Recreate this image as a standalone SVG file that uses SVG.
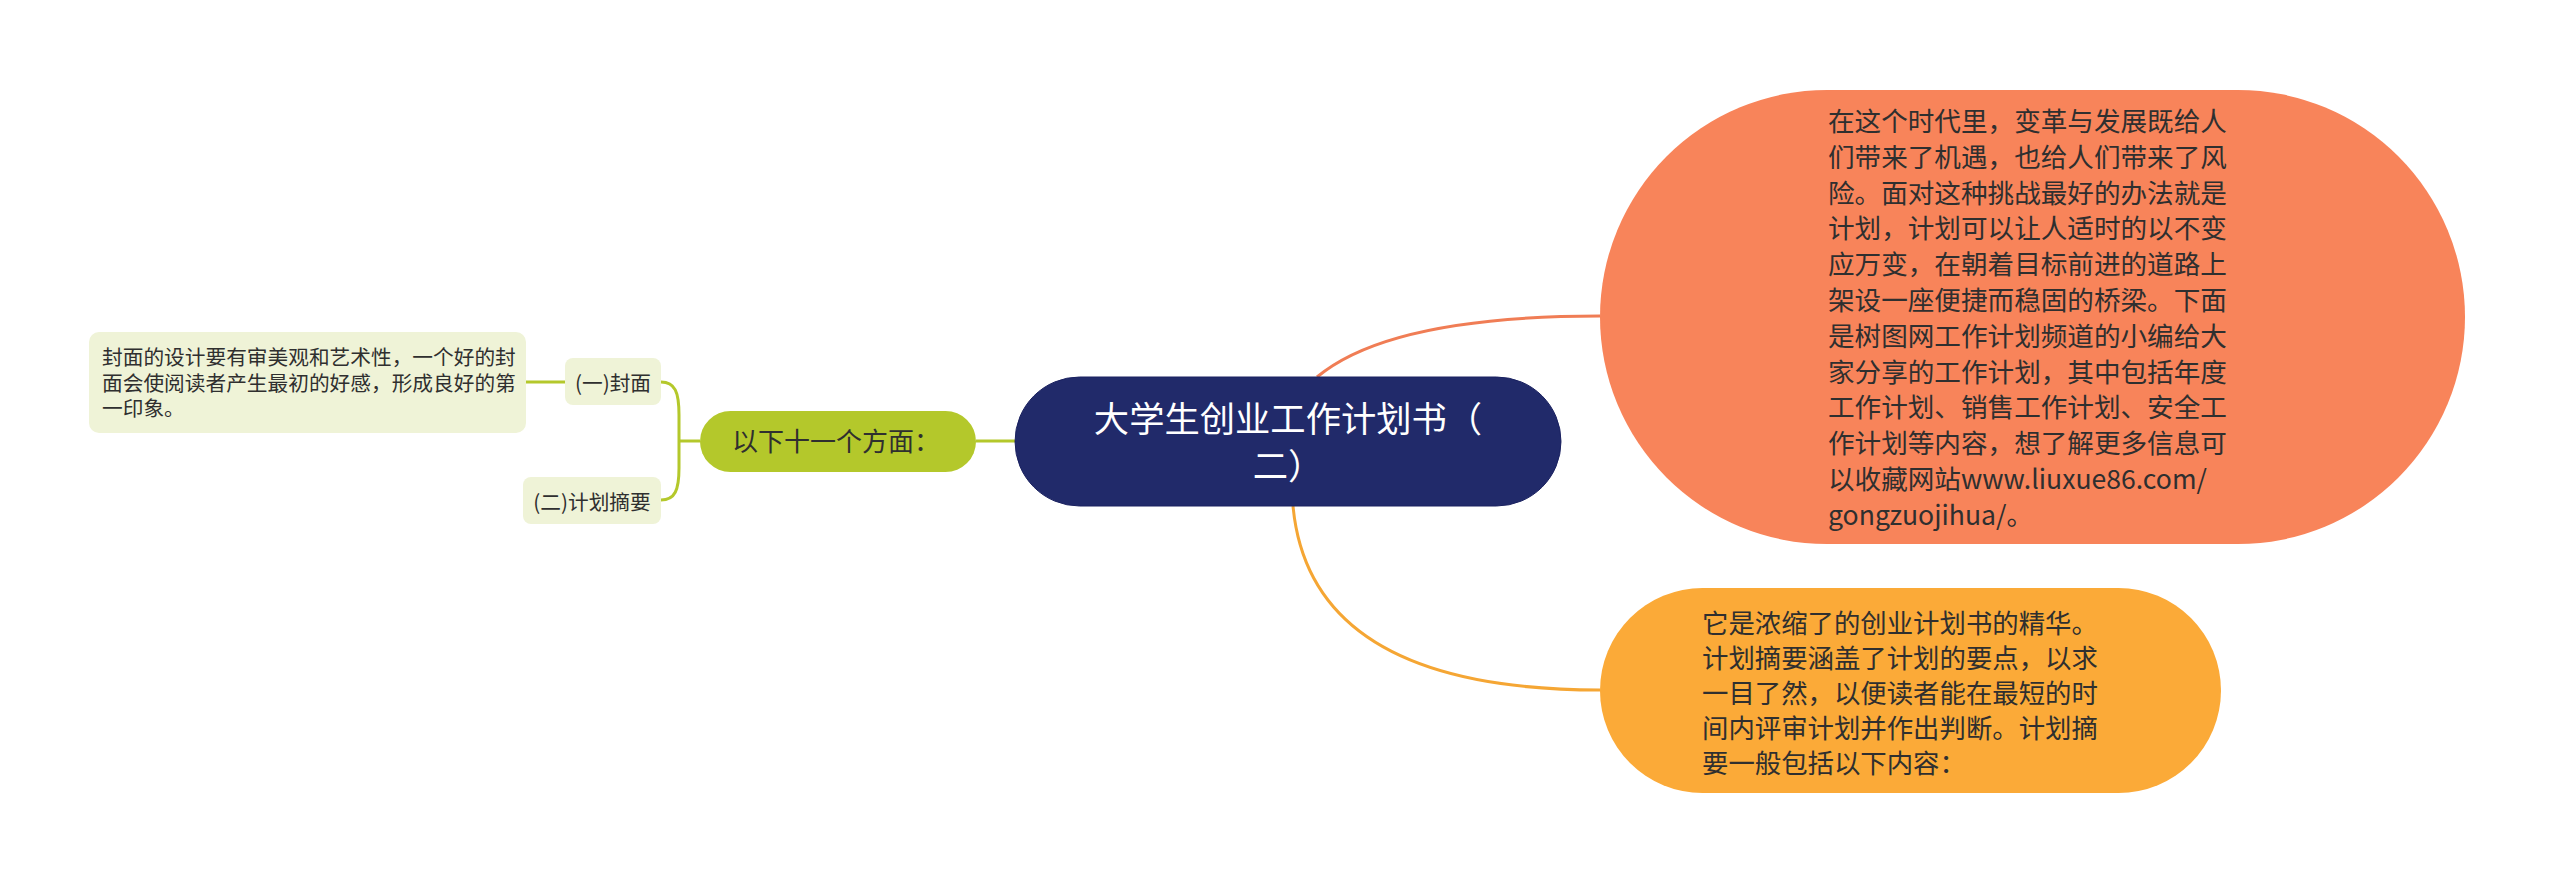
<svg xmlns="http://www.w3.org/2000/svg" width="2560" height="883" viewBox="0 0 2560 883">
<style>
text{font-family:"Noto Sans CJK SC","Noto Sans",sans-serif;}
.dark{fill:#2f2f2f;}
.c-green{fill:none;stroke:#b4c82b;stroke-width:3;}
.c-orange{fill:none;stroke:#f07d55;stroke-width:3;}
.c-yellow{fill:none;stroke:#f5a634;stroke-width:3;}
.leaf{fill:#eff3d7;}
</style>
<rect width="2560" height="883" fill="#ffffff"/>
<g id="connectors">
<path class="c-orange" d="M1317,377 Q1390,316 1600,316"/>
<path class="c-yellow" d="M1293,506 Q1310,690 1600,690"/>
<path class="c-green" d="M976,441 L1015,441"/>
<path class="c-green" d="M679,441 L700,441"/>
<path class="c-green" d="M661,382 C675,382 679,392 679,415 L679,468 C679,490 675,500 661,500"/>
<path class="c-green" d="M526,382 L565,382"/>
</g>
<g id="root">
<rect x="1015" y="377" width="546" height="129" rx="64.5" fill="#212a6a" stroke="#1a2160" stroke-width="1"/>
<text x="1288" y="432" font-size="35.3" fill="#ffffff" text-anchor="middle">大学生创业工作计划书（</text>
<text x="1288" y="479" font-size="35.3" fill="#ffffff" text-anchor="middle">二）</text>
</g>
<g id="orange-node">
<rect x="1600" y="90" width="865" height="454" rx="227" fill="#f8845a"/>
<g class="dark" font-size="26.6">
<text x="1828" y="131">在这个时代里，变革与发展既给人</text>
<text x="1828" y="166.8">们带来了机遇，也给人们带来了风</text>
<text x="1828" y="202.6">险。面对这种挑战最好的办法就是</text>
<text x="1828" y="238.4">计划，计划可以让人适时的以不变</text>
<text x="1828" y="274.2">应万变，在朝着目标前进的道路上</text>
<text x="1828" y="310">架设一座便捷而稳固的桥梁。下面</text>
<text x="1828" y="345.8">是树图网工作计划频道的小编给大</text>
<text x="1828" y="381.6">家分享的工作计划，其中包括年度</text>
<text x="1828" y="417.4">工作计划、销售工作计划、安全工</text>
<text x="1828" y="453.2">作计划等内容，想了解更多信息可</text>
<text x="1828" y="489">以收藏网站www.liuxue86.com/</text>
<text x="1828" y="524.8">gongzuojihua/。</text>
</g>
</g>
<g id="yellow-node">
<rect x="1600" y="588" width="621" height="205" rx="102.5" fill="#fbaa38"/>
<g class="dark" font-size="26.4">
<text x="1702" y="633">它是浓缩了的创业计划书的精华。</text>
<text x="1702" y="668">计划摘要涵盖了计划的要点，以求</text>
<text x="1702" y="703">一目了然，以便读者能在最短的时</text>
<text x="1702" y="738">间内评审计划并作出判断。计划摘</text>
<text x="1702" y="773">要一般包括以下内容：</text>
</g>
</g>
<g id="aspects-node">
<rect x="700" y="411" width="276" height="61" rx="30.5" fill="#b4c82b"/>
<text x="732" y="451" font-size="26" class="dark">以下十一个方面：</text>
</g>
<g id="cover-node">
<rect class="leaf" x="565" y="358" width="96" height="47" rx="8"/>
<text x="613" y="391" font-size="20.7" class="dark" text-anchor="middle">(一)封面</text>
</g>
<g id="summary-node">
<rect class="leaf" x="523" y="477" width="138" height="47" rx="8"/>
<text x="592" y="510" font-size="20.7" class="dark" text-anchor="middle">(二)计划摘要</text>
</g>
<g id="cover-detail">
<rect class="leaf" x="89" y="332" width="437" height="101" rx="10"/>
<g font-size="20.7" class="dark">
<text x="102" y="365">封面的设计要有审美观和艺术性，一个好的封</text>
<text x="102" y="390.5">面会使阅读者产生最初的好感，形成良好的第</text>
<text x="102" y="416">一印象。</text>
</g>
</g>
</svg>
